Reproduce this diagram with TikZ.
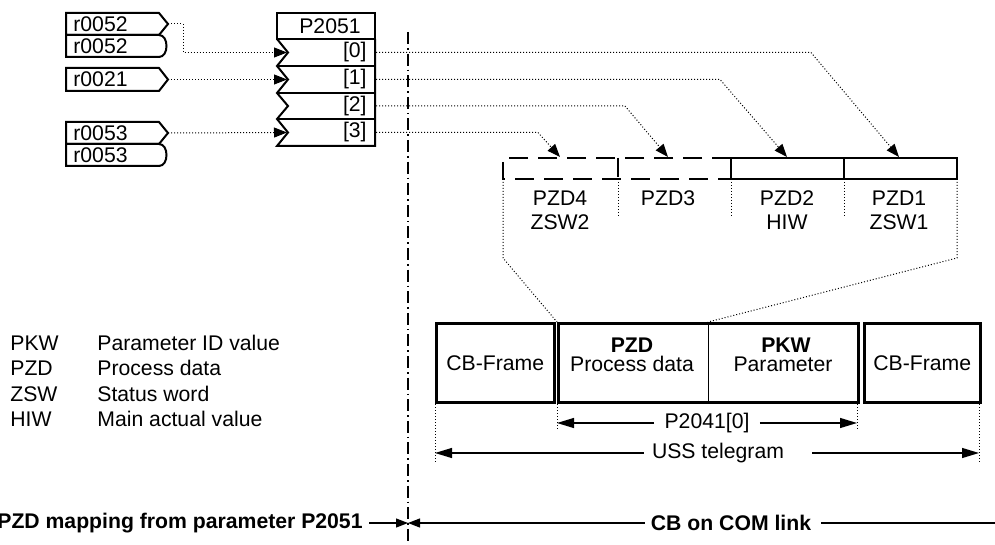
\documentclass[tikz,border=0pt]{standalone}
\usepackage{fontspec}
\setmainfont{Liberation Sans}
\usetikzlibrary{arrows.meta}
\begin{document}
\begin{tikzpicture}[x=0.5pt,y=-0.5pt,
  txt/.style={inner sep=0pt, font=\fontsize{10.6}{12}\selectfont},
  btxt/.style={inner sep=0pt, font=\fontsize{10.6}{12}\selectfont\bfseries},
  boxline/.style={line width=1pt},
  tbox/.style={draw, line width=1.25pt, inner sep=0pt, font=\fontsize{10.6}{12}\selectfont},
  dotline/.style={line width=0.5pt, dash pattern=on 0.5pt off 1pt},
  arr/.style={-{Triangle[length=6.5pt,width=5pt]}},
  larr/.style={-{Triangle[length=8.5pt,width=5pt]}, line width=0.6pt},
  pzddash/.style={line width=1.4pt, dash pattern=on 9.5pt off 5pt},
  dashdot/.style={line width=0.6pt, dash pattern=on 6pt off 2pt on 0.8pt off 2pt}]
\useasboundingbox (0,0) rectangle (995,545);

% ---------- source boxes ----------
\draw[boxline] (66,13) -- (159,13) -- (168,24) -- (159,35) -- (66,35) -- cycle;
\draw[boxline] (66,35) -- (159,35) .. controls (169,35) and (169,57) .. (159,57) -- (66,57) -- cycle;
\draw[boxline] (66,68) -- (159,68) -- (168,79.5) -- (159,91) -- (66,91) -- cycle;
\draw[boxline] (66,122) -- (159,122) -- (168,133) -- (159,144) -- (66,144) -- cycle;
\draw[boxline] (66,144) -- (159,144) .. controls (169,144) and (169,166) .. (159,166) -- (66,166) -- cycle;
\node[txt, anchor=west] (s1)  at (73,24)   {r0052};
\node[txt, anchor=west] (s1b) at (73,46)   {r0052};
\node[txt, anchor=west] (s2)  at (73,79.5) {r0021};
\node[txt, anchor=west] (s3)  at (73,133)  {r0053};
\node[txt, anchor=west] (s3b) at (73,155)  {r0053};
\coordinate (o1) at (168,24);
\coordinate (o2) at (168,79.5);
\coordinate (o3) at (168,133);

% ---------- P2051 ----------
\draw[boxline] (277,13) rectangle (375,39);
\node[txt] (p2051) at (330,26) {P2051};
\draw[boxline] (277,39) -- (288,52.5) -- (277,66) -- (288,79.5) -- (277,93) -- (288,106) -- (277,119) -- (288,132.5) -- (277,146) -- (375,146) -- (375,39);
\foreach \yy in {66,93,119} \draw[boxline] (277,\yy) -- (375,\yy);
\node[txt, anchor=east] (r0) at (367,52.5)  {[0]};
\node[txt, anchor=east] (r1) at (367,79.5)  {[1]};
\node[txt, anchor=east] (r2) at (367,106)   {[2]};
\node[txt, anchor=east] (r3) at (367,132.5) {[3]};
\coordinate (i0) at (287,52.5);
\coordinate (i1) at (287,79.5);
\coordinate (i2) at (287,106);
\coordinate (i3) at (287,132.5);
\coordinate (q0) at (376,52.5);
\coordinate (q1) at (376,79.5);
\coordinate (q2) at (376,106);
\coordinate (q3) at (376,132.5);

\draw[dotline, arr] (o1) -- (183,24) |- (i0);
\draw[dotline, arr] (o2) -- (i1);
\draw[dotline, arr] (o3) -- (i3);

% ---------- PZD words ----------
\coordinate (t4) at (560,157);
\coordinate (t3) at (668,157);
\coordinate (t2) at (787,157);
\coordinate (t1) at (899,157);
\draw[dotline, arr] (q0) -- (811,52.5) -- (t1);
\draw[dotline, arr] (q1) -- (720,79.5) -- (t2);
\draw[dotline, arr] (q2) -- (625,106) -- (t3);
\draw[dotline, arr] (q3) -- (538,132.5) -- (t4);

\draw[pzddash] (731,158) -- (503,158) -- (503,179) -- (731,179);
\draw[pzddash] (618,158) -- (618,179);
\draw[line width=1.3pt] (731,158) rectangle (957,179);
\draw[line width=1.3pt] (844,158) -- (844,179);

\node[txt] (pzd4) at (560,198) {PZD4};
\node[txt] (zsw2) at (560,222) {ZSW2};
\node[txt] (pzd3) at (668,198) {PZD3};
\node[txt] (pzd2) at (787,198) {PZD2};
\node[txt] (hiw)  at (787,222) {HIW};
\node[txt] (pzd1) at (899,198) {PZD1};
\node[txt] (zsw1) at (899,222) {ZSW1};

\draw[dotline] (503,179) -- (503,258) -- (557,322);
\draw[dotline] (957,179) -- (957,258) -- (708,322);
\foreach \xx in {618,731,844} \draw[dotline] (\xx,179) -- (\xx,217);

% ---------- telegram ----------
\node[tbox, minimum width=59pt, minimum height=39.5pt, anchor=north west] (cb1) at (435,322) {CB-Frame};
\node[tbox, minimum width=150pt, minimum height=39.5pt, anchor=north west] (tg) at (557,322) {};
\node[tbox, minimum width=58pt, minimum height=39.5pt, anchor=north west] (cb2) at (863,322) {CB-Frame};
\draw[line width=0.5pt] (708,322) -- (708,401);
\node[txt] (pzdh) at (632,345) {\textbf{PZD}};
\node[txt] (pzdt) at (632,364) {Process data};
\node[txt] (pkwh) at (786,345) {\textbf{PKW}};
\node[txt] (pkwt) at (783,364) {Parameter};

\draw[dotline] (435,401) -- (435,464);
\draw[dotline] (979,401) -- (979,464);
\draw[dotline] (557,401) -- (557,430);
\draw[dotline] (857,401) -- (857,430);

\node[txt, inner xsep=5pt] (p2041) at (707,423) {P2041[0]};
\coordinate (pa) at (557,423);
\coordinate (pb) at (857,423);
\draw[larr] (p2041.west) -- (pa);
\draw[larr] (p2041.east) -- (pb);

\node[txt, inner xsep=4pt] (uss) at (718,453) {USS telegram};
\coordinate (ua) at (435,453);
\coordinate (ub) at (979,453);
\draw[larr] (uss.west) -- (ua);
\draw[larr] ([xshift=10pt]uss.east) -- (ub);

% ---------- legend ----------
\node[txt, anchor=west] (lk1) at (10,343) {PKW};
\node[txt, anchor=west] (lk2) at (10,368) {PZD};
\node[txt, anchor=west] (lk3) at (10,394) {ZSW};
\node[txt, anchor=west] (lk4) at (10,419) {HIW};
\node[txt, anchor=west] (ld1) at (97,343) {Parameter ID value};
\node[txt, anchor=west] (ld2) at (97,368) {Process data};
\node[txt, anchor=west] (ld3) at (97,394) {Status word};
\node[txt, anchor=west] (ld4) at (97,419) {Main actual value};

% ---------- bottom ----------
\coordinate (vtop) at (408,32);
\coordinate (vbot) at (408,545);
\draw[dashdot] (vtop) -- (vbot);
\coordinate (mid) at (408,523);
\node[btxt, anchor=east] (lefttxt) at (363,523) {PZD mapping from parameter P2051};
\node[btxt] (righttxt) at (731,523) {CB on COM link};
\coordinate (rend) at (995,523);
\draw[-{Triangle[length=6pt,width=4.5pt]}, line width=0.6pt] ([xshift=3pt]lefttxt.east) -- (mid);
\draw[-{Triangle[length=6pt,width=4.5pt]}, line width=0.6pt] ([xshift=-3pt]righttxt.west) -- (mid);
\draw[line width=0.6pt] ([xshift=5pt]righttxt.east) -- (rend);
\end{tikzpicture}
\end{document}
